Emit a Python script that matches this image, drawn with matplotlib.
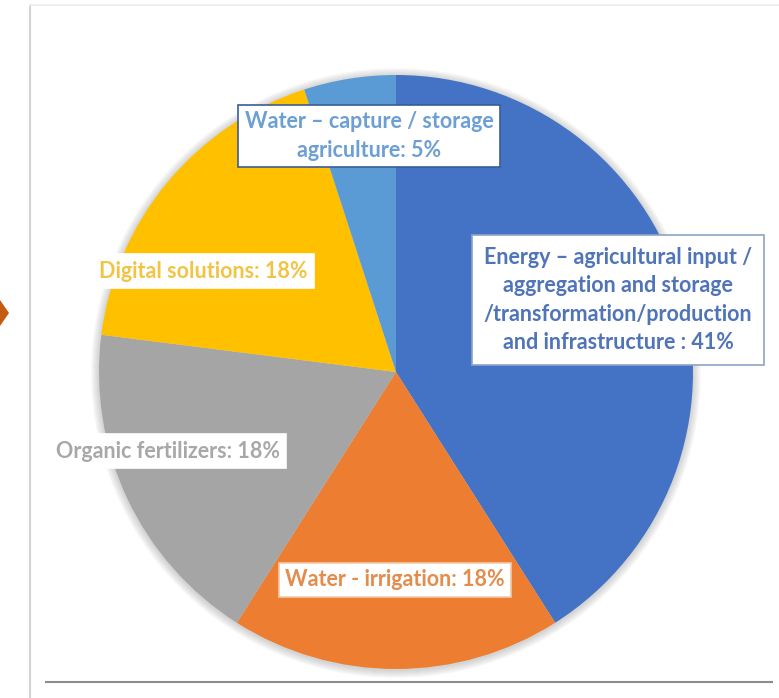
import matplotlib
matplotlib.use("Agg")
import matplotlib.pyplot as plt
from matplotlib.patches import Circle, Polygon
from matplotlib.lines import Line2D

categories = [
    "Energy – agricultural input /\naggregation and storage\n/transformation/production\nand infrastructure : 41%",
    "Water - irrigation: 18%",
    "Organic fertilizers: 18%",
    "Digital solutions: 18%",
    "Water – capture / storage\nagriculture: 5%",
]
values = [41, 18, 18, 18, 5]
colors = ["#4472C4", "#ED7D31", "#A5A5A5", "#FFC000", "#5B9BD5"]
text_colors = ["#4F74B8", "#E38C4C", "#A8A8A8", "#F2C446", "#6C9FD3"]
border_colors = ["#8FA3C4", "#F0C9A8", "#FFFFFF", "#FFFFFF", "#3A5E93"]
# label centres in pixel coordinates (x, y from top)
label_pos = [(618, 300), (395, 580), (168, 451), (203, 271), (369, 136)]
label_pads = [0.55, 0.3, 0.3, 0.3, 0.3]

W, H = 779, 698
fig = plt.figure(figsize=(W / 100, H / 100), dpi=100)
ax = fig.add_axes([0, 0, 1, 1])
ax.set_xlim(0, W)
ax.set_ylim(0, H)
ax.set_aspect("equal")
ax.axis("off")

cx, cy, r = 396, H - 372, 297

# soft shadow
for i in range(1, 9):
    ax.add_patch(Circle((cx, cy - 1), r + i, color="#707070", alpha=0.04, lw=0, zorder=0))

ax.pie(values, colors=colors, startangle=90, counterclock=False,
       center=(cx, cy), radius=r, frame=True,
       wedgeprops=dict(linewidth=0))
ax.set_xlim(0, W)
ax.set_ylim(0, H)
ax.axis("off")

for lab, (px, py), tc, bc, pd in zip(categories, label_pos, text_colors,
                                     border_colors, label_pads):
    ax.text(px, H - py, lab, ha="center", va="center", color=tc,
            fontsize=15.5, fontweight="bold", family="Lato", linespacing=1.42,
            bbox=dict(boxstyle=f"square,pad={pd}", fc="white", ec=bc, lw=1.2),
            zorder=5)

# card frame decorations
ax.add_line(Line2D([30, 30], [0, H - 5], color="#D4D4D4", lw=1.5))
ax.add_line(Line2D([30, W], [H - 5, H - 5], color="#EEEEEE", lw=1.5))
ax.add_line(Line2D([46, 772], [H - 682, H - 682], color="#8C8C8C", lw=1.5))
ax.add_patch(Polygon([[0, H - 300], [9, H - 313], [0, H - 326]], closed=True,
                     color="#C55A11", lw=0))

fig.savefig("out.png", dpi=100, facecolor="white")
